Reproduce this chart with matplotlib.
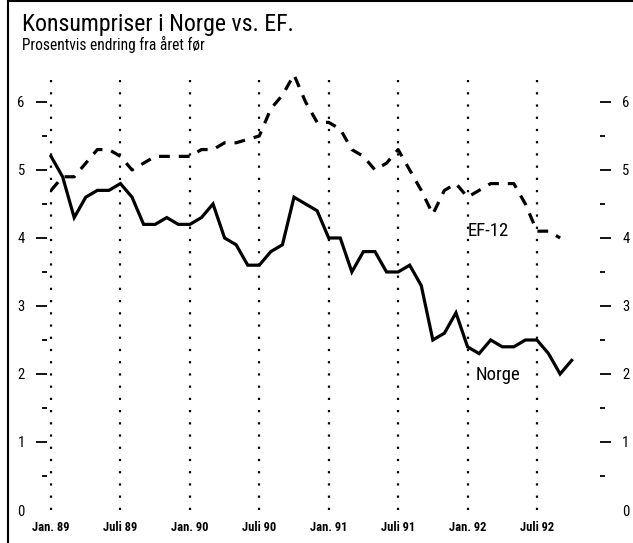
import matplotlib
matplotlib.use("Agg")
import matplotlib.pyplot as plt
from matplotlib.lines import Line2D
from matplotlib.ticker import MultipleLocator, NullFormatter
import numpy as np

plt.rcParams['font.family'] = ['Roboto Condensed', 'IBM Plex Sans Condensed', 'DejaVu Sans']

# månedlige tall, jan. 89 - okt. 92
norge = [5.2, 4.9, 4.3, 4.6, 4.7, 4.7, 4.8, 4.6, 4.2, 4.2,
         4.3, 4.2, 4.2, 4.3, 4.5, 4.0, 3.9, 3.6, 3.6, 3.8,
         3.9, 4.6, 4.5, 4.4, 4.0, 4.0, 3.5, 3.8, 3.8, 3.5,
         3.5, 3.6, 3.3, 2.5, 2.6, 2.9, 2.4, 2.3, 2.5, 2.4,
         2.4, 2.5, 2.5, 2.3, 2.0, 2.2]
ef12 = [4.7, 4.9, 4.9, 5.1, 5.3, 5.3, 5.2, 5.0, 5.1, 5.2,
        5.2, 5.2, 5.2, 5.3, 5.3, 5.4, 5.4, 5.45, 5.5, 5.9,
        6.1, 6.4, 6.0, 5.7, 5.7, 5.6, 5.3, 5.2, 5.0, 5.1,
        5.3, 5.0, 4.7, 4.35, 4.7, 4.8, 4.6, 4.7, 4.8, 4.8,
        4.8, 4.5, 4.1, 4.1, 4.0]
x_labels = ['Jan. 89', 'Juli 89', 'Jan. 90', 'Juli 90',
            'Jan. 91', 'Juli 91', 'Jan. 92', 'Juli 92']
y_ticks = [0, 1, 2, 3, 4, 5, 6]

W, H = 633, 543
fig = plt.figure(figsize=(W / 100, H / 100), dpi=100)
ax = fig.add_axes([47 / W, 1 - 510 / H, (600 - 47) / W, (510 - 70) / H])

x_n = np.arange(len(norge))
x_e = np.arange(len(ef12))
tick_pos = np.arange(len(x_labels)) * 6

# stiplede loddrette linjer
for t in tick_pos:
    ax.axvline(t, color='black', lw=1.6, ls=(0, (1, 4.5)), zorder=1)

ax.plot(x_n, norge, color='black', lw=2.3, solid_joinstyle='miter', zorder=3)
ax.plot(x_e, ef12, color='black', lw=2.3, ls=(0, (3.4, 2.8)), zorder=3)

ax.text(36, 4.1, 'EF-12', fontsize=13.5, va='center', ha='left')
ax.text(36.7, 1.98, 'Norge', fontsize=13.5, va='center', ha='left')

ax.set_xlim(-0.35, 47.45)
ax.set_ylim(0, 6.47)
for s in ax.spines.values():
    s.set_visible(False)

ax.set_xticks(tick_pos)
ax.set_xticklabels(x_labels, fontsize=9, fontweight='bold')
ax.tick_params(axis='x', length=0, pad=8)

ax.set_yticks(y_ticks)
ax.set_yticklabels([str(v) for v in y_ticks])
ax.yaxis.set_minor_locator(MultipleLocator(0.5))
ax.yaxis.set_minor_formatter(NullFormatter())
ax.tick_params(axis='y', which='major', length=8, width=1.3, pad=8,
               labelsize=10.5, left=True, right=True, labelleft=True, labelright=True)
ax.tick_params(axis='y', which='minor', length=3.5, width=1.3,
               left=True, right=True)
# ingen strek ved 0
ax.yaxis.get_major_ticks()[0].tick1line.set_visible(False)
ax.yaxis.get_major_ticks()[0].tick2line.set_visible(False)

fig.text(22 / W, 1 - 31 / H, 'Konsumpriser i Norge vs. EF.', fontsize=17.2,
         ha='left', va='baseline')
fig.text(22 / W, 1 - 50 / H, 'Prosentvis endring fra året før', fontsize=11.2,
         ha='left', va='baseline')

# ramme oppe og til venstre
fig.add_artist(Line2D([8 / W, 8 / W], [0, 1], transform=fig.transFigure,
                      color='black', lw=1.5))
fig.add_artist(Line2D([8 / W, 1], [1 - 1 / H, 1 - 1 / H], transform=fig.transFigure,
                      color='black', lw=1.5))

fig.savefig('out.png', dpi=100)
